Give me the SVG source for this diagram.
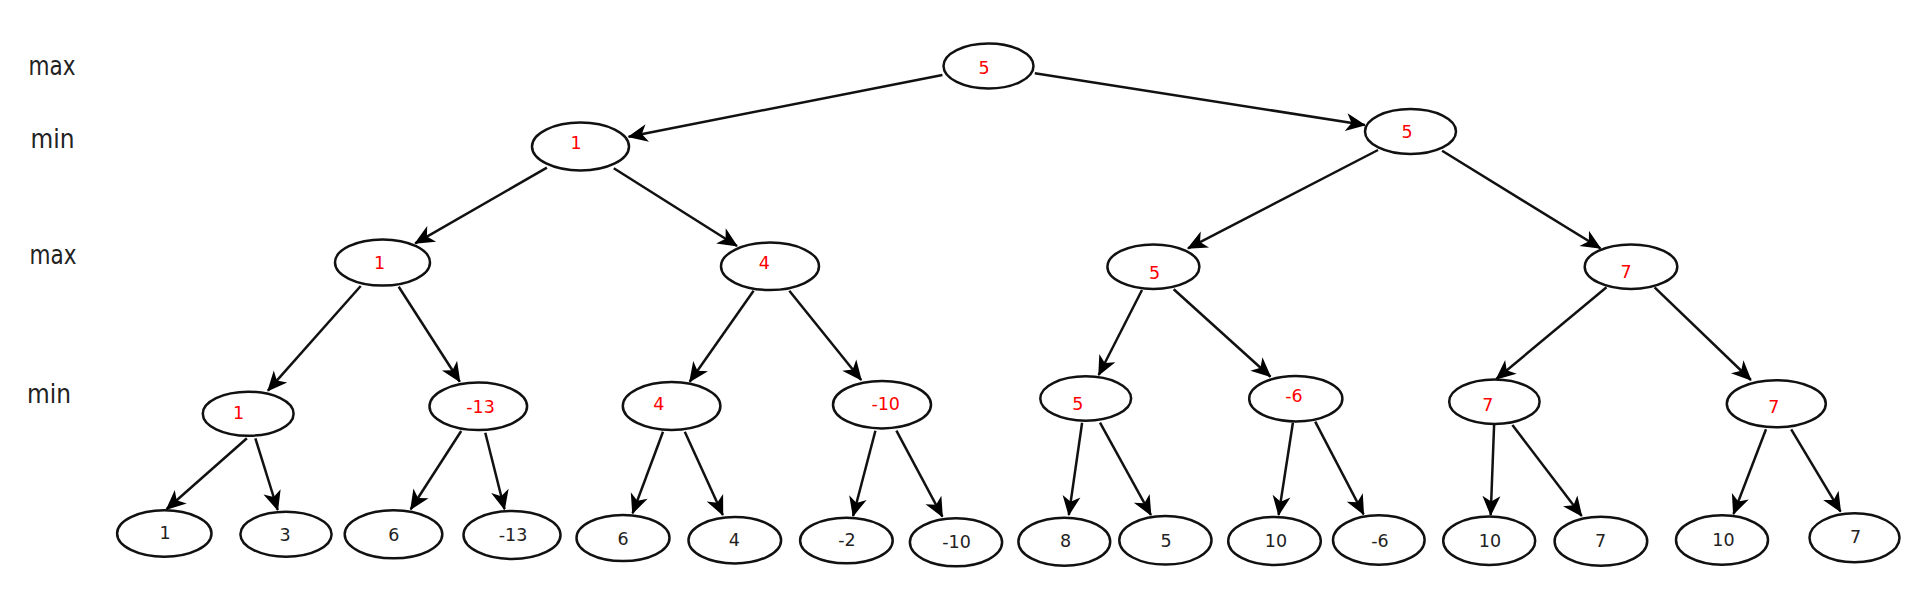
<svg xmlns="http://www.w3.org/2000/svg" width="1930" height="611" viewBox="0 0 1930 611">
<style>
.n ellipse{fill:#fff;stroke:#111;stroke-width:2.5}
.n text{font-family:"DejaVu Sans",sans-serif;font-size:17.5px;text-anchor:middle}
.r text{fill:#f00}
.b text{fill:#222}
.lvl{font-family:"DejaVu Sans",sans-serif;font-size:26px;fill:#222;text-anchor:middle}
#edges line{stroke:#111;stroke-width:2.5;marker-end:url(#ah)}
</style>
<defs>
<marker id="ah" markerUnits="userSpaceOnUse" markerWidth="26" markerHeight="22" viewBox="-22 -11 26 22" refX="0" refY="0" orient="auto">
<path d="M1,0 L-19,-9 L-13.5,0 L-19,9 Z" fill="#000"/>
</marker>
</defs>
<rect width="1930" height="611" fill="#fff"/>
<g id="levels">
<text class="lvl" x="52" y="75" textLength="47" lengthAdjust="spacingAndGlyphs">max</text>
<text class="lvl" x="52.5" y="147.5" textLength="44" lengthAdjust="spacingAndGlyphs">min</text>
<text class="lvl" x="53" y="264" textLength="47" lengthAdjust="spacingAndGlyphs">max</text>
<text class="lvl" x="49" y="402.5" textLength="44" lengthAdjust="spacingAndGlyphs">min</text>
</g>
<g id="edges">
<line x1="942.4" y1="75" x2="628.6" y2="136.7"/>
<line x1="1034.8" y1="73.3" x2="1364.9" y2="125"/>
<line x1="546.9" y1="167.7" x2="415.2" y2="243.3"/>
<line x1="613.8" y1="168.3" x2="737" y2="246"/>
<line x1="1378" y1="150" x2="1188" y2="248.3"/>
<line x1="1442.1" y1="150.7" x2="1600.4" y2="248.3"/>
<line x1="360.7" y1="286" x2="267.9" y2="390.7"/>
<line x1="398.7" y1="286.7" x2="459.8" y2="381.7"/>
<line x1="753.6" y1="290.7" x2="689.7" y2="381.7"/>
<line x1="789.3" y1="290.7" x2="861.2" y2="380"/>
<line x1="1142" y1="290" x2="1098.7" y2="375"/>
<line x1="1173.7" y1="289.3" x2="1270.5" y2="376.7"/>
<line x1="1606.5" y1="287.3" x2="1496.3" y2="379"/>
<line x1="1654.6" y1="287.3" x2="1750.9" y2="380"/>
<line x1="246.9" y1="438.3" x2="166.5" y2="509.3"/>
<line x1="255.4" y1="438.3" x2="277.7" y2="510"/>
<line x1="461.2" y1="431" x2="410.7" y2="509.3"/>
<line x1="485.3" y1="432.7" x2="504.5" y2="509.3"/>
<line x1="663" y1="431.7" x2="632.6" y2="513.3"/>
<line x1="684.8" y1="431.7" x2="722.8" y2="515"/>
<line x1="875.4" y1="430.7" x2="853.1" y2="516"/>
<line x1="896.4" y1="430.7" x2="942.4" y2="516.7"/>
<line x1="1082.1" y1="422.7" x2="1068.8" y2="515"/>
<line x1="1100" y1="422.7" x2="1150.9" y2="515"/>
<line x1="1292.9" y1="422.7" x2="1278.6" y2="515"/>
<line x1="1315.2" y1="421.7" x2="1363.6" y2="514.3"/>
<line x1="1494.1" y1="425" x2="1490.7" y2="515"/>
<line x1="1512.4" y1="425" x2="1581.7" y2="516"/>
<line x1="1766" y1="429.3" x2="1733.5" y2="514"/>
<line x1="1791.2" y1="429.3" x2="1840.6" y2="511.7"/>
</g>
<g id="n0" class="n r"><ellipse cx="988.5" cy="66" rx="45" ry="22.5"/><text x="984" y="74">5</text></g>
<g id="n1" class="n r"><ellipse cx="580.5" cy="146.5" rx="48.5" ry="24"/><text x="576" y="149.3">1</text></g>
<g id="n2" class="n r"><ellipse cx="1410.5" cy="131.5" rx="45.5" ry="22.5"/><text x="1407" y="137.7">5</text></g>
<g id="n3" class="n r"><ellipse cx="382.5" cy="262.5" rx="47.5" ry="23"/><text x="379.5" y="268.7">1</text></g>
<g id="n4" class="n r"><ellipse cx="770" cy="266.3" rx="49" ry="23.7"/><text x="764.3" y="269.3">4</text></g>
<g id="n5" class="n r"><ellipse cx="1153.4" cy="266.7" rx="46" ry="22.3"/><text x="1154.5" y="278.7">5</text></g>
<g id="n6" class="n r"><ellipse cx="1631" cy="266.7" rx="46.3" ry="22.3"/><text x="1626" y="277.7">7</text></g>
<g id="n7" class="n r"><ellipse cx="248.2" cy="413.7" rx="45.4" ry="22"/><text x="238.6" y="419.3">1</text></g>
<g id="n8" class="n r"><ellipse cx="478.3" cy="406.3" rx="48.8" ry="23.7"/><text x="480.5" y="413.3">-13</text></g>
<g id="n9" class="n r"><ellipse cx="671.6" cy="406" rx="48.8" ry="24"/><text x="658.7" y="410">4</text></g>
<g id="n10" class="n r"><ellipse cx="882" cy="404.7" rx="49" ry="23.7"/><text x="885.7" y="410">-10</text></g>
<g id="n11" class="n r"><ellipse cx="1085.7" cy="398.5" rx="45.4" ry="22.2"/><text x="1077.7" y="410">5</text></g>
<g id="n12" class="n r"><ellipse cx="1295.8" cy="398.7" rx="46.6" ry="22.7"/><text x="1294" y="402.3">-6</text></g>
<g id="n13" class="n r"><ellipse cx="1494.4" cy="401.7" rx="45.2" ry="22.3"/><text x="1487.7" y="410.7">7</text></g>
<g id="n14" class="n r"><ellipse cx="1776.3" cy="403.8" rx="49.5" ry="23.5"/><text x="1773.9" y="413.3">7</text></g>
<g id="l1" class="n b"><ellipse cx="164.3" cy="533.5" rx="47.2" ry="23.2"/><text x="165" y="539.3">1</text></g>
<g id="l2" class="n b"><ellipse cx="286" cy="534.2" rx="45.6" ry="22.5"/><text x="285" y="540.7">3</text></g>
<g id="l3" class="n b"><ellipse cx="393.5" cy="534.3" rx="48.8" ry="24"/><text x="393.7" y="540.7">6</text></g>
<g id="l4" class="n b"><ellipse cx="512" cy="535" rx="48.5" ry="24"/><text x="513" y="540.7">-13</text></g>
<g id="l5" class="n b"><ellipse cx="623" cy="538" rx="46.5" ry="23"/><text x="623" y="545">6</text></g>
<g id="l6" class="n b"><ellipse cx="734.8" cy="540.2" rx="46.3" ry="23.2"/><text x="734.4" y="545.7">4</text></g>
<g id="l7" class="n b"><ellipse cx="846.4" cy="540.5" rx="46.3" ry="22.8"/><text x="847" y="545.7">-2</text></g>
<g id="l8" class="n b"><ellipse cx="956" cy="542.3" rx="46.1" ry="24"/><text x="956.5" y="548.3">-10</text></g>
<g id="l9" class="n b"><ellipse cx="1064.3" cy="541.7" rx="45.9" ry="24"/><text x="1065.6" y="547.3">8</text></g>
<g id="l10" class="n b"><ellipse cx="1165.4" cy="540.3" rx="46.1" ry="24.3"/><text x="1166" y="547.3">5</text></g>
<g id="l11" class="n b"><ellipse cx="1274.5" cy="541" rx="46.3" ry="24"/><text x="1276" y="547.3">10</text></g>
<g id="l12" class="n b"><ellipse cx="1378.8" cy="540" rx="45.8" ry="24.7"/><text x="1380" y="546.7">-6</text></g>
<g id="l13" class="n b"><ellipse cx="1489.2" cy="540.8" rx="46" ry="24.2"/><text x="1490" y="547.3">10</text></g>
<g id="l14" class="n b"><ellipse cx="1600.9" cy="541.2" rx="46.3" ry="24.5"/><text x="1600.6" y="547.3">7</text></g>
<g id="l15" class="n b"><ellipse cx="1722" cy="540" rx="46" ry="24.7"/><text x="1723.4" y="546">10</text></g>
<g id="l16" class="n b"><ellipse cx="1854.5" cy="537.8" rx="45" ry="24.5"/><text x="1855.6" y="543.3">7</text></g>
</svg>
